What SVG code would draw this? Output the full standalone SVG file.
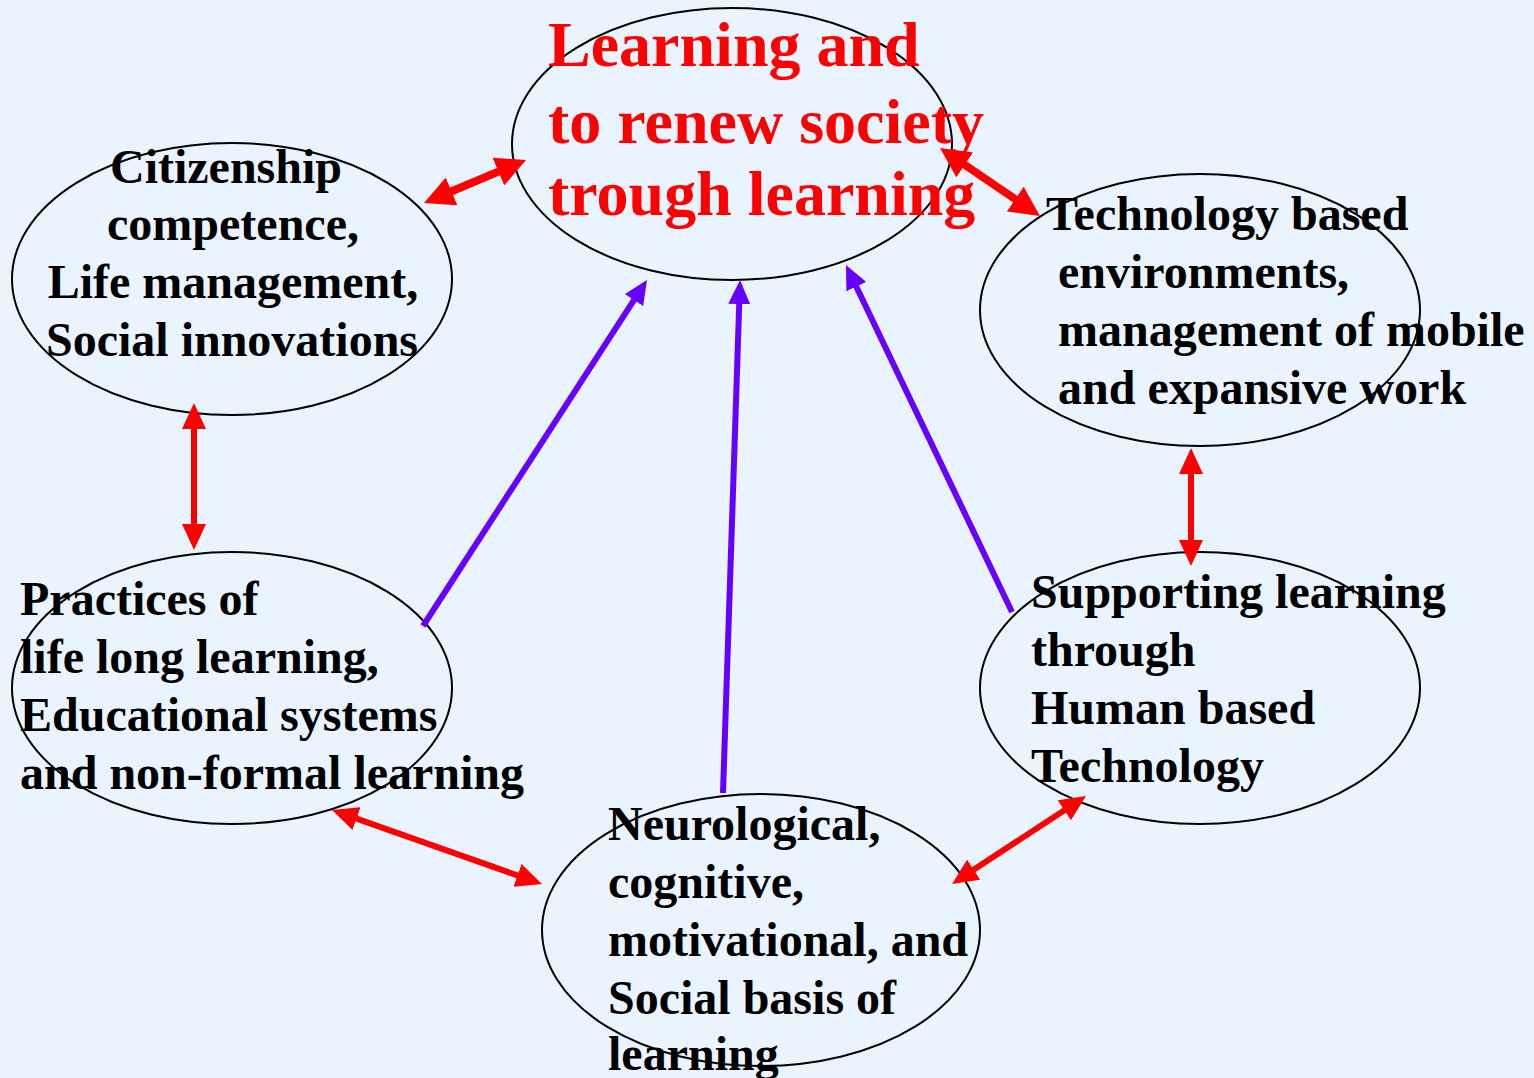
<svg xmlns="http://www.w3.org/2000/svg" width="1534" height="1078" viewBox="0 0 1534 1078">
<style>
.node ellipse{fill:none;stroke:#000;stroke-width:2}
.t{font-family:"Liberation Serif","Times New Roman",serif;font-weight:bold;font-size:48px;fill:#000}
.tr{font-family:"Liberation Serif","Times New Roman",serif;font-weight:bold;font-size:64px;fill:#FF0000}
.red{stroke:#FF0000;stroke-width:6;fill:none;marker-start:url(#rh);marker-end:url(#rh)}
.redb{stroke:#FF0000;stroke-width:8;fill:none;marker-start:url(#rhb);marker-end:url(#rhb)}
.pur{stroke:#6600FF;stroke-width:6;fill:none;marker-end:url(#ph)}
</style>
<defs>
<marker id="rh" viewBox="0 0 26 24" markerWidth="26" markerHeight="24" refX="12" refY="12" orient="auto-start-reverse" markerUnits="userSpaceOnUse">
<path d="M0,0 L26,12 L0,24 z" fill="#FF0000"/>
</marker>
<marker id="rhb" viewBox="0 0 30 30" markerWidth="30" markerHeight="30" refX="14" refY="15" orient="auto-start-reverse" markerUnits="userSpaceOnUse">
<path d="M0,0 L30,15 L0,30 z" fill="#FF0000"/>
</marker>
<marker id="ph" viewBox="0 0 24 22" markerWidth="24" markerHeight="22" refX="11" refY="11" orient="auto" markerUnits="userSpaceOnUse">
<path d="M0,0 L24,11 L0,22 z" fill="#6600FF"/>
</marker>
</defs>
<rect width="1534" height="1078" fill="#EAF4FE"/>
<g id="n-center" class="node">
<ellipse cx="732" cy="144" rx="220" ry="136"/>
</g>
<g id="n-citizenship" class="node">
<ellipse cx="232" cy="279" rx="220" ry="136"/>
<text class="t" text-anchor="middle"><tspan x="226" y="183">Citizenship</tspan><tspan x="233" y="240">competence,</tspan><tspan x="233" y="298">Life management,</tspan><tspan x="232" y="356">Social innovations</tspan></text>
</g>
<g id="n-technology" class="node">
<ellipse cx="1200" cy="310" rx="220" ry="136"/>
<text class="t"><tspan x="1046" y="230">Technology based</tspan><tspan x="1058" y="288">environments,</tspan><tspan x="1058" y="346">management of mobile</tspan><tspan x="1058" y="404">and expansive work</tspan></text>
</g>
<g id="n-practices" class="node">
<ellipse cx="232" cy="688" rx="220" ry="136"/>
<text class="t"><tspan x="20" y="615">Practices of</tspan><tspan x="20" y="673">life long learning,</tspan><tspan x="20" y="731">Educational systems</tspan><tspan x="20" y="789">and non-formal learning</tspan></text>
</g>
<g id="n-supporting" class="node">
<ellipse cx="1200" cy="688" rx="220" ry="136"/>
<text class="t"><tspan x="1031" y="608">Supporting learning</tspan><tspan x="1031" y="666">through</tspan><tspan x="1031" y="724">Human based</tspan><tspan x="1031" y="782">Technology</tspan></text>
</g>
<g id="n-neuro" class="node">
<ellipse cx="761" cy="930" rx="219" ry="136"/>
<text class="t"><tspan x="608" y="840">Neurological,</tspan><tspan x="608" y="898">cognitive,</tspan><tspan x="608" y="956">motivational, and</tspan><tspan x="608" y="1014">Social basis of</tspan><tspan x="608" y="1070">learning</tspan></text>
</g>
<g id="center-label">
<text class="tr"><tspan x="548" y="66">Learning and</tspan><tspan x="548" y="143">to renew society</tspan><tspan x="548" y="215">trough learning</tspan></text>
</g>
<g id="connectors">
<line class="redb" x1="438.7" y1="196.8" x2="511.3" y2="166.2"/>
<line class="redb" x1="953.2" y1="157" x2="1026.8" y2="207"/>
<line class="red" x1="194" y1="417" x2="194" y2="536"/>
<line class="red" x1="1191" y1="462" x2="1191" y2="552"/>
<line class="red" x1="345.2" y1="814.6" x2="528.8" y2="879.4"/>
<line class="red" x1="963.7" y1="876.3" x2="1074.3" y2="803.7"/>
<line class="pur" x1="423" y1="626" x2="639.9" y2="290.9"/>
<line class="pur" x1="723" y1="793" x2="739.6" y2="293"/>
<line class="pur" x1="1012" y1="612" x2="851.6" y2="276.7"/>
</g>
</svg>
